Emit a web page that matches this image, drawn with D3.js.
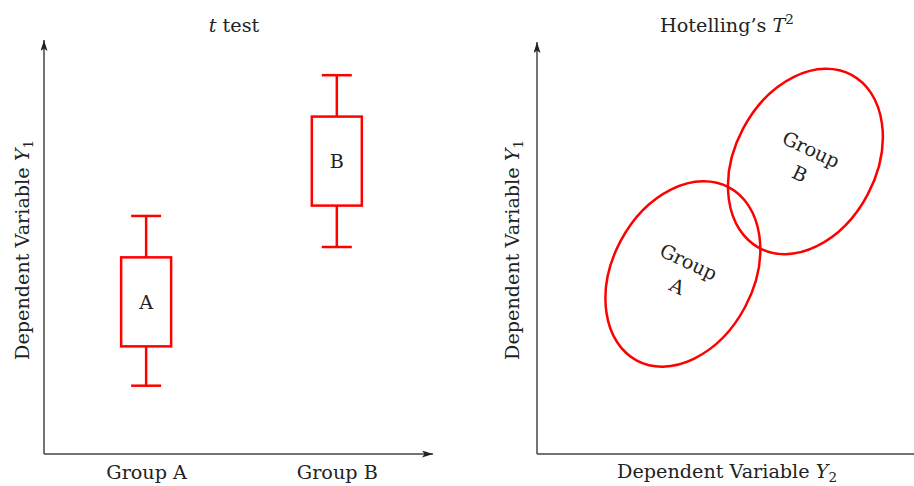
<!DOCTYPE html>
<html>
<head>
<meta charset="utf-8">
<script src="https://cdn.jsdelivr.net/npm/d3@7"></script>
<style>
  body { margin: 0; background: #fff; }
  text { font-family: "DejaVu Serif", serif; fill: #222; }
</style>
</head>
<body>
<div id="chart"></div>
<script>
// left panel: t test boxes
const groups = ['Group A', 'Group B'];
const boxLabels = ['A', 'B'];
const whiskerLow = [1.65, 5.0];
const boxLow = [2.6, 6.0];
const boxHigh = [4.75, 8.15];
const whiskerHigh = [5.75, 9.15];

// right panel: Hotelling ellipses (Y2, Y1)
const ellipseGroups = ['A', 'B'];
const centerY2 = [3.75, 6.9];
const centerY1 = [4.37, 7.1];
const majorAxis = [2.38, 2.38];
const minorAxis = [1.71, 1.71];
const tiltDeg = [28, 28];

const width = 914, height = 486;
const red = '#ff0000', axisColor = '#444';
const fs = 19.2;

const svg = d3.select('#chart')
  .append('svg')
  .attr('width', width)
  .attr('height', height);

const defs = svg.append('defs');
defs.append('marker')
  .attr('id', 'arrow')
  .attr('viewBox', '0 0 11 7')
  .attr('refX', 11)
  .attr('refY', 3.5)
  .attr('markerWidth', 11)
  .attr('markerHeight', 7)
  .attr('markerUnits', 'userSpaceOnUse')
  .attr('orient', 'auto')
  .append('path')
  .attr('d', 'M0,0L11,3.5L0,7L2.5,3.5Z')
  .attr('fill', '#222');

function drawAxes(x0, x1, y0, y1)
{
  svg.append('line')
    .attr('x1', x0).attr('y1', y0).attr('x2', x0).attr('y2', y1)
    .attr('stroke', axisColor).attr('stroke-width', 1.5)
    .attr('marker-end', 'url(#arrow)');
  svg.append('line')
    .attr('x1', x0).attr('y1', y0).attr('x2', x1).attr('y2', y0)
    .attr('stroke', axisColor).attr('stroke-width', 1.5)
    .attr('marker-end', 'url(#arrow)');
}

function yLabel(x, y)
{
  const t = svg.append('text')
    .attr('transform', `translate(${x},${y}) rotate(-90)`)
    .attr('text-anchor', 'middle')
    .attr('font-size', fs);
  t.append('tspan').text('Dependent Variable ');
  t.append('tspan').attr('font-style', 'italic').text('Y');
  t.append('tspan').attr('font-size', 13.5).attr('dy', 4).text('1');
}

// ---- left panel ----
const xL = d3.scalePoint(groups, [44, 433]).padding(0.52).align(0.515);
const yL = d3.scaleLinear([0, 10], [454, 40]);

drawAxes(xL.range()[0], xL.range()[1], yL.range()[0], yL.range()[1]);

svg.append('g')
  .attr('transform', `translate(0,${yL.range()[0]})`)
  .call(d3.axisBottom(xL).tickSize(0).tickPadding(11))
  .call(g => g.select('.domain').remove())
  .selectAll('text')
  .attr('font-family', '"DejaVu Serif", serif')
  .attr('font-size', fs)
  .attr('fill', '#222');

const title1 = svg.append('text')
  .attr('x', 234).attr('y', 32)
  .attr('text-anchor', 'middle')
  .attr('font-size', fs);
title1.append('tspan').attr('font-style', 'italic').text('t');
title1.append('tspan').text(' test');

yLabel(29, 250);

const boxW = 50, capW = 30;
const boxes = svg.append('g').selectAll('g')
  .data(groups)
  .join('g');

boxes.append('line')
  .attr('x1', (d) => xL(d)).attr('x2', (d) => xL(d))
  .attr('y1', (d, i) => yL(whiskerLow[i])).attr('y2', (d, i) => yL(boxLow[i]));
boxes.append('line')
  .attr('x1', (d) => xL(d)).attr('x2', (d) => xL(d))
  .attr('y1', (d, i) => yL(boxHigh[i])).attr('y2', (d, i) => yL(whiskerHigh[i]));
boxes.append('line')
  .attr('x1', (d) => xL(d) - capW / 2).attr('x2', (d) => xL(d) + capW / 2)
  .attr('y1', (d, i) => yL(whiskerLow[i])).attr('y2', (d, i) => yL(whiskerLow[i]));
boxes.append('line')
  .attr('x1', (d) => xL(d) - capW / 2).attr('x2', (d) => xL(d) + capW / 2)
  .attr('y1', (d, i) => yL(whiskerHigh[i])).attr('y2', (d, i) => yL(whiskerHigh[i]));
boxes.append('rect')
  .attr('x', (d) => xL(d) - boxW / 2)
  .attr('width', boxW)
  .attr('y', (d, i) => yL(boxHigh[i]))
  .attr('height', (d, i) => yL(boxLow[i]) - yL(boxHigh[i]))
  .attr('fill', 'none');
boxes.selectAll('line, rect')
  .attr('stroke', red)
  .attr('stroke-width', 2.5);
boxes.append('text')
  .attr('x', (d) => xL(d))
  .attr('y', (d, i) => (yL(boxLow[i]) + yL(boxHigh[i])) / 2)
  .attr('dy', '0.36em')
  .attr('text-anchor', 'middle')
  .attr('font-size', fs)
  .text((d, i) => boxLabels[i]);

// ---- right panel ----
const xR = d3.scaleLinear([0, 10], [537, 926]);
const yR = d3.scaleLinear([0, 10], [454, 42]);
const k = yR(0) - yR(1);

drawAxes(xR.range()[0], xR.range()[1], yR.range()[0], yR.range()[1]);

const title2 = svg.append('text')
  .attr('x', 727).attr('y', 32)
  .attr('text-anchor', 'middle')
  .attr('font-size', fs);
title2.append('tspan').text('Hotelling\u2019s ');
title2.append('tspan').attr('font-style', 'italic').text('T');
title2.append('tspan').attr('font-size', 13.5).attr('dy', -8).text('2');

yLabel(519, 250);

const xlab = svg.append('text')
  .attr('x', 727).attr('y', 478)
  .attr('text-anchor', 'middle')
  .attr('font-size', fs);
xlab.append('tspan').text('Dependent Variable ');
xlab.append('tspan').attr('font-style', 'italic').text('Y');
xlab.append('tspan').attr('font-size', 13.5).attr('dy', 4).text('2');

const ell = svg.append('g').selectAll('g')
  .data(ellipseGroups)
  .join('g')
  .attr('transform', (d, i) => `translate(${xR(centerY2[i])},${yR(centerY1[i])}) rotate(${tiltDeg[i]})`);

ell.append('ellipse')
  .attr('rx', (d, i) => minorAxis[i] * k)
  .attr('ry', (d, i) => majorAxis[i] * k)
  .attr('fill', 'none')
  .attr('stroke', red)
  .attr('stroke-width', 2.5);

const lbl = ell.append('text')
  .attr('transform', (d, i) => `rotate(${-tiltDeg[i] + 25})`)
  .attr('text-anchor', 'middle')
  .attr('font-size', fs);
lbl.append('tspan').attr('x', 0).attr('y', -13.5).attr('dy', '0.36em').text('Group');
lbl.append('tspan').attr('x', 0).attr('y', 13.5).attr('dy', '0.36em').text((d) => d);
</script>
</body>
</html>
